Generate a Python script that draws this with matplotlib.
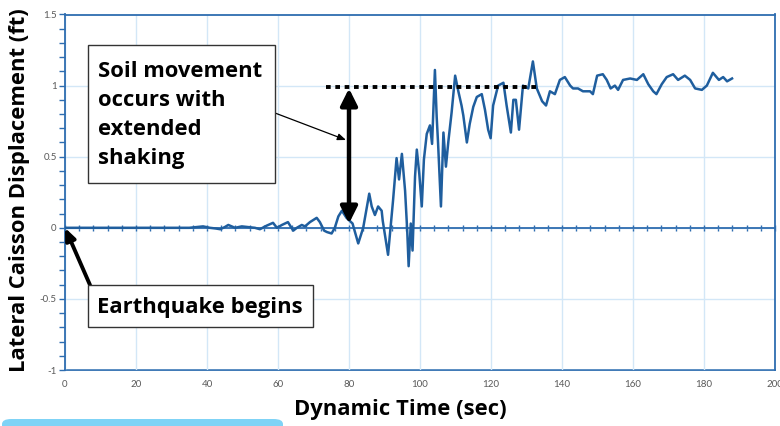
import matplotlib
matplotlib.use("Agg")
import matplotlib.pyplot as plt
from matplotlib.patches import Rectangle, FancyBboxPatch
from matplotlib.ticker import MultipleLocator

plt.rcParams['font.family'] = ['Lato', 'DejaVu Sans']
BOLD_FAMILY = ['Open Sans', 'DejaVu Sans']

# ---- data ----
time_s = [0, 5, 10, 15, 20, 25, 30, 35, 38.9, 40.8, 42.5, 43.7, 45, 46, 47.9, 49.8, 51.6,
          53.5, 54.9, 56.8, 58.6, 59.7, 61.1, 62.8, 64.3, 65.3, 66.7, 67.6, 69, 70.9, 71.8,
          73, 73.8, 75.1, 76, 77, 78, 79.3, 81, 82.6, 84, 85.7, 86.4, 87.3, 88.2, 89.2,
          89.5, 91, 92.4, 93.4, 94.1, 94.9, 95.8, 96.4, 96.8, 97.4, 97.9, 98.6, 99.1, 99.8,
          100.5, 101.1, 101.9, 102.8, 103.4, 104.2, 104.7, 105.1, 105.9, 106.6, 107.3, 108,
          108.9, 109.9, 110.8, 111.7, 112.2, 113.2, 114, 115, 116, 117.4, 118.3, 119.2,
          119.9, 120.6, 122, 123.5, 124.4, 125.6, 126.3, 127, 127.9, 129, 130.5, 131.8,
          132.9, 134.4, 135.5, 136.6, 138, 139.4, 140.8, 142.3, 143.1, 144.5, 145.9, 147.9,
          148.7, 149.9, 151.5, 152.6, 153.7, 154.9, 155.8, 157.2, 159.2, 161.1, 162.9,
          164.3, 165.7, 166.6, 168.1, 169.5, 171.3, 172.7, 174.6, 176.1, 177.5, 179.4,
          180.8, 182.5, 184.2, 185.4, 186.5, 187.9]
displacement_ft = [0, 0, 0, 0, 0, 0, 0, 0, 0.01, 0, -0.005, -0.01, 0.005, 0.02, 0, 0.01, 0.005,
                   0, -0.01, 0.015, 0.035, 0.0, 0.02, 0.04, -0.02, 0, 0.02, 0.01, 0.04, 0.07, 0.04,
                   -0.02, -0.03, -0.04, 0, 0.08, 0.12, 0.07, 0.03, -0.11, 0.0, 0.24, 0.15, 0.09, 0.15, 0.12,
                   0.05, -0.19, 0.19, 0.49, 0.34, 0.52, 0.26, -0.02, -0.27, 0.03, -0.16, 0.36, 0.55, 0.38,
                   0.15, 0.48, 0.66, 0.72, 0.59, 1.11, 0.78, 0.59, 0.15, 0.67, 0.43, 0.61,
                   0.81, 1.07, 0.96, 0.86, 0.79, 0.6, 0.73, 0.85, 0.92, 0.94, 0.83, 0.69,
                   0.63, 0.86, 1.0, 1.02, 0.86, 0.67, 0.9, 0.9, 0.69, 1.0, 0.98, 1.17,
                   0.98, 0.89, 0.86, 0.96, 0.94, 1.04, 1.06, 1.0, 0.98, 0.98, 0.96, 0.96,
                   0.94, 1.07, 1.08, 1.04, 0.98, 1.0, 0.97, 1.04, 1.05, 1.04, 1.08,
                   1.01, 0.96, 0.94, 1.01, 1.06, 1.08, 1.04, 1.07, 1.04, 0.98, 0.97,
                   1.0, 1.09, 1.04, 1.06, 1.03, 1.05]
x_ticks = [0, 20, 40, 60, 80, 100, 120, 140, 160, 180, 200]
y_ticks = [-1, -0.5, 0, 0.5, 1, 1.5]
y_tick_labels = ['-1', '-0.5', '0', '0.5', '1', '1.5']
movement_time = 80
movement_from, movement_to = 0.03, 0.98
level_time_range = (73.5, 133)
level_value = 0.99

W, H = 780, 426
fig = plt.figure(figsize=(W / 100, H / 100), dpi=100)
ax = fig.add_axes([65 / W, (H - 370) / H, 710 / W, 355.5 / H])

spine_c = '#2E6DB0'
grid_c = '#D3E7F7'
line_c = '#1F5E9E'
tick_c = '#595959'
BOLD_SIZE = 15.8

ax.set_xlim(0, 200)
ax.set_ylim(-1, 1.5)
ax.set_xticks(x_ticks)
ax.set_yticks(y_ticks)
ax.set_yticklabels(y_tick_labels)
ax.xaxis.set_minor_locator(MultipleLocator(4))
ax.yaxis.set_minor_locator(MultipleLocator(0.1))
ax.grid(True, which='major', color=grid_c, lw=1.0, zorder=0)
ax.set_axisbelow(True)

for s in ax.spines.values():
    s.set_color(spine_c)
    s.set_linewidth(1.3)
ax.spines['bottom'].set_position(('data', 0))
ax.tick_params(axis='x', which='both', direction='inout', length=5, width=1,
               color=spine_c, labelbottom=False)
ax.tick_params(axis='y', which='both', direction='out', length=4, width=1,
               color=spine_c, labelsize=7, labelcolor=tick_c, pad=2)

sec = ax.secondary_xaxis(0.0)
sec.set_xticks(x_ticks)
sec.tick_params(length=0, labelsize=7, labelcolor=tick_c, pad=7)
sec.spines['bottom'].set_color(spine_c)
sec.spines['bottom'].set_linewidth(1.3)

ax.plot(time_s, displacement_ft, color=line_c, lw=1.8, zorder=3)

# dotted level line
ax.plot(level_time_range, [level_value, level_value], color='black', lw=2.8,
        linestyle=(0, (1.2, 1.2)), zorder=4)
# double-headed arrow
ax.annotate('', xy=(movement_time, movement_to), xytext=(movement_time, movement_from),
            arrowprops=dict(arrowstyle='<|-|>,head_length=1.0,head_width=0.5',
                            color='black', lw=3.2, shrinkA=0, shrinkB=0), zorder=5)

ax.set_ylabel('Lateral Caisson Displacement (ft)', fontsize=BOLD_SIZE, fontweight='bold',
              family=BOLD_FAMILY)
ax.yaxis.set_label_coords(-35 / 710, 0.505)
fig.text(400 / W, 1 - 410 / H, 'Dynamic Time (sec)', fontsize=BOLD_SIZE, fontweight='bold',
         family=BOLD_FAMILY, ha='center', va='center')

# annotation boxes (figure pixel based)
def fx(px):
    return px / W

def fy(py):
    return 1 - py / H

fig.add_artist(Rectangle((fx(88), fy(183)), fx(275) - fx(88), fy(45) - fy(183),
                         transform=fig.transFigure, facecolor='white', edgecolor='#333333',
                         lw=1.0, zorder=6))
fig.text(fx(98), fy(115), 'Soil movement\noccurs with\nextended\nshaking', fontsize=BOLD_SIZE,
         fontweight='bold', family=BOLD_FAMILY, ha='left', va='center',
         linespacing=1.5, zorder=7)

fig.add_artist(Rectangle((fx(88), fy(327)), fx(313) - fx(88), fy(285) - fy(327),
                         transform=fig.transFigure, facecolor='white', edgecolor='#333333',
                         lw=1.0, zorder=6))
fig.text(fx(200), fy(307), 'Earthquake begins', fontsize=BOLD_SIZE, fontweight='bold',
         family=BOLD_FAMILY, ha='center', va='center', zorder=7)

# arrow to earthquake start
ax.annotate('', xy=(0, 0), xycoords='data', xytext=(fx(90), fy(285)),
            textcoords='figure fraction',
            arrowprops=dict(arrowstyle='-|>,head_length=0.7,head_width=0.3',
                            color='black', lw=2.8, shrinkA=0, shrinkB=0), zorder=7)
# thin connector
ax.annotate('', xy=(fx(346), fy(140)), xycoords='figure fraction',
            xytext=(fx(275), fy(113)), textcoords='figure fraction',
            arrowprops=dict(arrowstyle='-|>,head_length=0.5,head_width=0.2',
                            color='black', lw=0.9, shrinkA=0, shrinkB=0), zorder=7)

# light blue decorative band
fig.add_artist(FancyBboxPatch((fx(2), fy(440)), fx(283) - fx(2), fy(419) - fy(440),
                              boxstyle='round,pad=0,rounding_size=0.012',
                              transform=fig.transFigure, facecolor='#7FD3F6',
                              edgecolor='none', zorder=1))

fig.savefig('out.png', dpi=100)
